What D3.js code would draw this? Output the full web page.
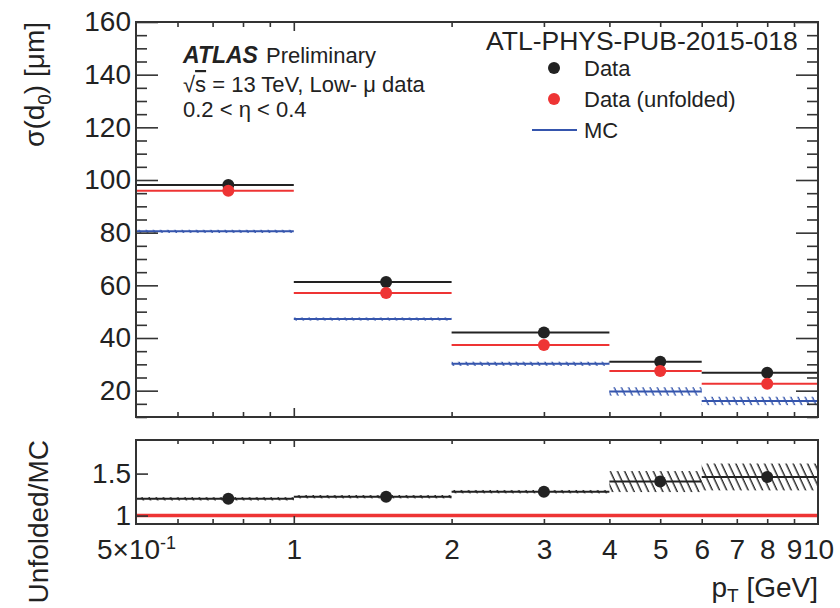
<!DOCTYPE html>
<html><head><meta charset="utf-8">
<script src="https://cdn.jsdelivr.net/npm/d3@7"></script>
<style>
html,body{margin:0;padding:0;background:#fff;}
svg{display:block;font-family:"Liberation Sans",Arial,Helvetica,sans-serif;}
</style></head><body>
<svg id="chart" width="840" height="608"></svg>
<script>
// pT bins [GeV] and their centres
const binEdges = [0.5, 1, 2, 4, 6, 10];
const binCenters = [0.75, 1.5, 3, 5, 8];
// sigma(d0) [um]
const dataVals = [98.1, 61.3, 42.1, 31.0, 26.8];
const unfoldedVals = [95.9, 57.1, 37.3, 27.5, 22.6];
const mcVals = [80.5, 47.2, 30.2, 19.7, 16.1];
const mcErr = [0.6, 0.6, 0.8, 1.6, 1.6];
// Unfolded / MC
const ratioVals = [1.20, 1.225, 1.285, 1.405, 1.46];
const ratioErr = [0.02, 0.02, 0.02, 0.125, 0.16];
// axis ticks
const yMajorTicks = [20, 40, 60, 80, 100, 120, 140, 160];
const yMinorTicks = d3.range(10, 161, 5).filter(v => v % 20 !== 0);
const xMinorTicks = [0.6, 0.7, 0.8, 0.9, 2, 3, 4, 5, 6, 7, 8, 9];
const xMajorTicks = [1];
const xLabelTicks = [0.5, 1, 2, 3, 4, 5, 6, 7, 8, 9, 10];
const ratioTicks = [1, 1.5];

const INK = "#222", FRAME = "#333", RED = "#ee3434", BLUE = "#3555ad";

const svg = d3.select("#chart");
const x = d3.scaleLog().domain([0.5, 10]).range([136, 818]);
const y = d3.scaleLinear().domain([10, 160]).range([417, 22]);
const yr = d3.scaleLinear().domain([0.9, 1.9]).range([524, 440]);

// hatch fills for error bands
const defs = svg.append("defs");
function hatch(id, color) {
  defs.append("pattern").attr("id", id)
    .attr("patternUnits", "userSpaceOnUse")
    .attr("width", 6.5).attr("height", 10)
    .attr("patternTransform", "rotate(-25)")
    .append("line").attr("x1", 3).attr("x2", 3).attr("y1", 0).attr("y2", 10)
    .attr("stroke", color).attr("stroke-width", 1.4);
}
hatch("hatchBlue", BLUE);
hatch("hatchBlack", INK);

const bins = binCenters.map((c, i) => ({
  lo: binEdges[i], hi: binEdges[i + 1], c,
  data: dataVals[i], unf: unfoldedVals[i], mc: mcVals[i], mcErr: mcErr[i],
  r: ratioVals[i], rErr: ratioErr[i]
}));

function tickAxis(g, axisFn, scale, values, size) {
  g.call(axisFn(scale).tickValues(values).tickSize(size).tickFormat(""));
  g.select(".domain").remove();
  g.selectAll("line").attr("stroke", FRAME).attr("stroke-width", 1.6);
}

// ---------- main panel ----------
const main = svg.append("g");
// MC bands and lines
main.selectAll("rect.mcband").data(bins).join("rect")
  .attr("x", d => x(d.lo)).attr("width", d => x(d.hi) - x(d.lo))
  .attr("y", d => y(d.mc + d.mcErr)).attr("height", d => y(d.mc - d.mcErr) - y(d.mc + d.mcErr))
  .attr("fill", "url(#hatchBlue)");
main.selectAll("line.mc").data(bins).join("line")
  .attr("x1", d => x(d.lo)).attr("x2", d => x(d.hi))
  .attr("y1", d => y(d.mc)).attr("y2", d => y(d.mc))
  .attr("stroke", BLUE).attr("stroke-width", 2);
// data (black) and unfolded data (red)
[["data", INK], ["unf", RED]].forEach(([key, col]) => {
  main.selectAll("line." + key).data(bins).join("line").attr("class", key)
    .attr("x1", d => x(d.lo)).attr("x2", d => x(d.hi))
    .attr("y1", d => y(d[key])).attr("y2", d => y(d[key]))
    .attr("stroke", col).attr("stroke-width", 2);
});
[["data", INK], ["unf", RED]].forEach(([key, col]) => {
  main.selectAll("circle." + key).data(bins).join("circle").attr("class", key)
    .attr("cx", d => x(d.c)).attr("cy", d => y(d[key])).attr("r", 6)
    .attr("fill", col);
});

// main axes
tickAxis(main.append("g").attr("transform", "translate(0,417)"), d3.axisBottom, x, xMinorTicks, -5);
tickAxis(main.append("g").attr("transform", "translate(0,417)"), d3.axisBottom, x, xMajorTicks, -9);
tickAxis(main.append("g").attr("transform", "translate(0,22)"), d3.axisTop, x, xMinorTicks, -5);
tickAxis(main.append("g").attr("transform", "translate(0,22)"), d3.axisTop, x, xMajorTicks, -9);
tickAxis(main.append("g").attr("transform", "translate(136,0)"), d3.axisLeft, y, yMinorTicks, -11);
tickAxis(main.append("g").attr("transform", "translate(818,0)"), d3.axisRight, y, yMinorTicks, -11);
tickAxis(main.append("g").attr("transform", "translate(818,0)"), d3.axisRight, y, yMajorTicks, -22);
const yAx = main.append("g").attr("transform", "translate(136,0)")
  .call(d3.axisLeft(y).tickValues(yMajorTicks).tickSize(-22).tickPadding(5));
yAx.select(".domain").remove();
yAx.selectAll("line").attr("stroke", FRAME).attr("stroke-width", 1.6);
yAx.selectAll("text").attr("font-size", 28).attr("fill", INK)
  .attr("font-family", "Liberation Sans, Arial, sans-serif");
main.append("rect").attr("x", 136).attr("y", 22).attr("width", 682).attr("height", 395)
  .attr("fill", "none").attr("stroke", FRAME).attr("stroke-width", 2);

// y title
const yt = main.append("text").attr("transform", "translate(44,22) rotate(-90)")
  .attr("text-anchor", "end").attr("font-size", 28).attr("fill", INK);
yt.append("tspan").text("σ(d");
yt.append("tspan").attr("font-size", 19).attr("dy", 7).text("0");
yt.append("tspan").attr("dy", -7).text(") [μm]");

// annotation text
const ann = main.append("g").attr("fill", INK).attr("font-size", 22);
const t1 = ann.append("text").attr("x", 183).attr("y", 63);
t1.append("tspan").attr("font-weight", "bold").attr("font-style", "italic").attr("font-size", 23).text("ATLAS");
t1.append("tspan").attr("dx", 8).text("Preliminary");
const t2 = ann.append("text").attr("x", 183).attr("y", 92);
t2.append("tspan").text("√");
t2.append("tspan").style("text-decoration", "overline").text("s");
t2.append("tspan").text(" = 13 TeV, Low- μ data");
ann.append("text").attr("x", 183).attr("y", 117).text("0.2 < η < 0.4");
ann.append("text").attr("x", 486).attr("y", 50).attr("font-size", 26.5).text("ATL-PHYS-PUB-2015-018");

// legend
const legendItems = [
  { label: "Data", kind: "dot", color: INK },
  { label: "Data (unfolded)", kind: "dot", color: RED },
  { label: "MC", kind: "line", color: BLUE }
];
const leg = main.append("g");
legendItems.forEach((it, i) => {
  const cy = 68 + i * 31;
  if (it.kind === "dot") leg.append("circle").attr("cx", 554).attr("cy", cy).attr("r", 6).attr("fill", it.color);
  else leg.append("line").attr("x1", 532).attr("x2", 577).attr("y1", cy).attr("y2", cy)
    .attr("stroke", it.color).attr("stroke-width", 2);
  leg.append("text").attr("x", 584).attr("y", cy + 8).attr("font-size", 22).attr("fill", INK).text(it.label);
});

// ---------- ratio panel ----------
const rp = svg.append("g");
rp.append("line").attr("x1", x(0.5)).attr("x2", x(10)).attr("y1", yr(1)).attr("y2", yr(1))
  .attr("stroke", RED).attr("stroke-width", 3.5);
rp.selectAll("rect.rband").data(bins).join("rect")
  .attr("x", d => x(d.lo)).attr("width", d => x(d.hi) - x(d.lo))
  .attr("y", d => yr(d.r + d.rErr)).attr("height", d => yr(d.r - d.rErr) - yr(d.r + d.rErr))
  .attr("fill", "url(#hatchBlack)");
rp.selectAll("line.rl").data(bins).join("line")
  .attr("x1", d => x(d.lo)).attr("x2", d => x(d.hi))
  .attr("y1", d => yr(d.r)).attr("y2", d => yr(d.r))
  .attr("stroke", INK).attr("stroke-width", 2);
rp.selectAll("circle.rp").data(bins).join("circle")
  .attr("cx", d => x(d.c)).attr("cy", d => yr(d.r)).attr("r", 6).attr("fill", INK);

tickAxis(rp.append("g").attr("transform", "translate(0,524)"), d3.axisBottom, x, xMinorTicks, -5);
tickAxis(rp.append("g").attr("transform", "translate(0,524)"), d3.axisBottom, x, xMajorTicks, -8);
tickAxis(rp.append("g").attr("transform", "translate(0,440)"), d3.axisTop, x, xMinorTicks, -4);
tickAxis(rp.append("g").attr("transform", "translate(0,440)"), d3.axisTop, x, xMajorTicks, -7);
const ryAx = rp.append("g").attr("transform", "translate(136,0)")
  .call(d3.axisLeft(yr).tickValues(ratioTicks).tickSize(-12).tickPadding(5).tickFormat(d3.format("~g")));
ryAx.select(".domain").remove();
ryAx.selectAll("line").attr("stroke", FRAME).attr("stroke-width", 1.6);
ryAx.selectAll("text").attr("font-size", 28).attr("fill", INK)
  .attr("font-family", "Liberation Sans, Arial, sans-serif");

// x tick labels
const xl = rp.append("g").attr("transform", "translate(0,524)")
  .call(d3.axisBottom(x).tickValues(xLabelTicks).tickSize(0).tickPadding(15).tickFormat(d3.format("d")));
xl.select(".domain").remove();
xl.selectAll("text").attr("font-size", 28).attr("fill", INK)
  .attr("font-family", "Liberation Sans, Arial, sans-serif")
  .each(function (d) {
    if (d === 0.5) {
      const t = d3.select(this).text("");
      t.append("tspan").text("5×10");
      t.append("tspan").attr("font-size", 18).attr("dy", "-0.55em").text("-1");
    }
  });

rp.append("rect").attr("x", 136).attr("y", 440).attr("width", 682).attr("height", 84)
  .attr("fill", "none").attr("stroke", FRAME).attr("stroke-width", 2);

// ratio y title
rp.append("text").attr("transform", "translate(48,440) rotate(-90)")
  .attr("text-anchor", "end").attr("font-size", 28).attr("fill", INK).text("Unfolded/MC");

// x title
const xt = rp.append("text").attr("x", 818).attr("y", 597).attr("text-anchor", "end")
  .attr("font-size", 28).attr("fill", INK);
xt.append("tspan").text("p");
xt.append("tspan").attr("font-size", 19).attr("dy", 5).text("T");
xt.append("tspan").attr("dy", -5).text(" [GeV]");
</script>
</body></html>
